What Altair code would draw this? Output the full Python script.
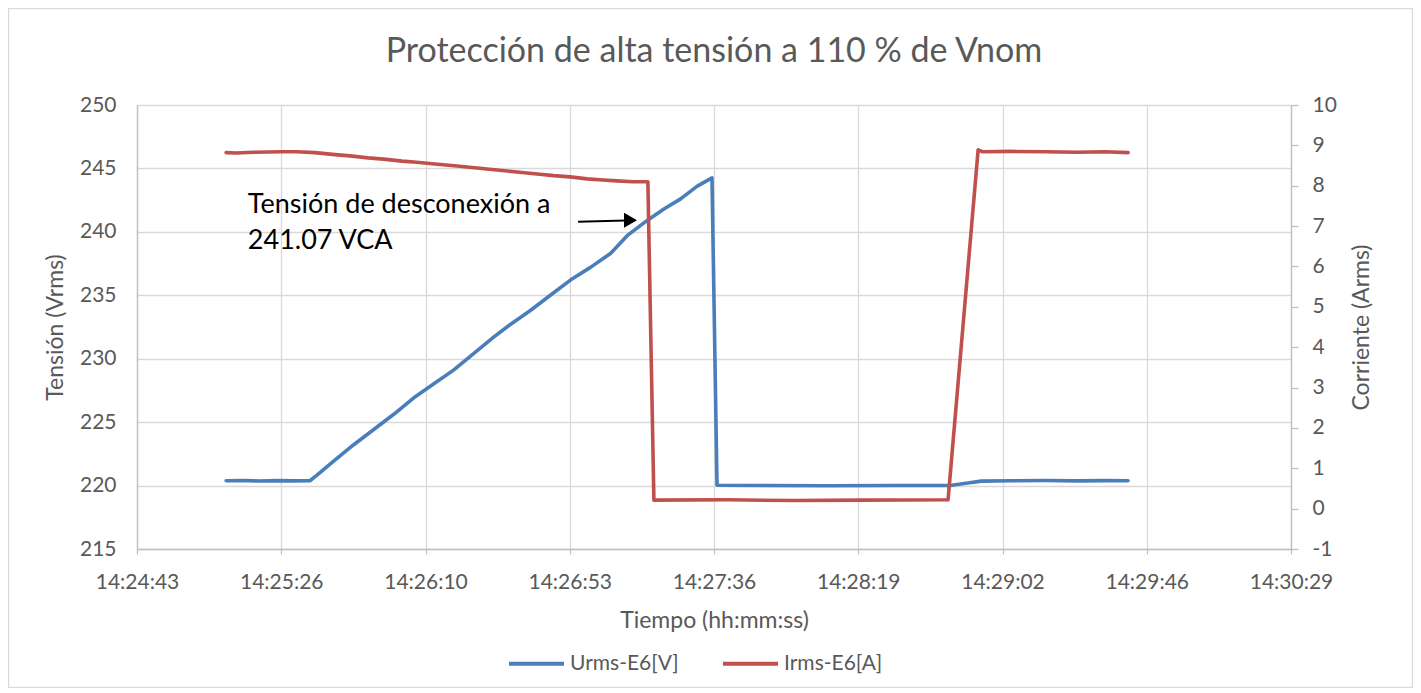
import altair as alt
import pandas as pd

TITLE = "Protección de alta tensión a 110 % de Vnom"
X_TITLE = "Tiempo (hh:mm:ss)"
Y_LEFT_TITLE = "Tensión (Vrms)"
Y_RIGHT_TITLE = "Corriente (Arms)"
U_NAME = "Urms-E6[V]"
I_NAME = "Irms-E6[A]"

X_TICK_LABELS = ["14:24:43", "14:25:26", "14:26:10", "14:26:53", "14:27:36",
                 "14:28:19", "14:29:02", "14:29:46", "14:30:29"]
X_TICK_DAYS = [0.6005, 0.6010, 0.6015, 0.6020, 0.6025, 0.6030, 0.6035, 0.6040, 0.6045]
Y_LEFT_TICKS = [215, 220, 225, 230, 235, 240, 245, 250]
Y_RIGHT_TICKS = [-1, 0, 1, 2, 3, 4, 5, 6, 7, 8, 9, 10]

U_TIME = ["14:25:09.9", "14:25:15", "14:25:20", "14:25:25", "14:25:30", "14:25:35",
          "14:25:37", "14:25:42", "14:25:48", "14:25:54", "14:26:00", "14:26:06",
          "14:26:12", "14:26:18", "14:26:24", "14:26:30", "14:26:35", "14:26:41",
          "14:26:47", "14:26:53", "14:26:59", "14:27:05", "14:27:10", "14:27:16",
          "14:27:21", "14:27:26", "14:27:31", "14:27:35.4", "14:27:36.9", "14:27:50",
          "14:28:10", "14:28:30", "14:28:46.7", "14:28:52", "14:28:56", "14:29:05",
          "14:29:15", "14:29:25", "14:29:33", "14:29:40"]
U_VAL = [220.38, 220.40, 220.36, 220.39, 220.37, 220.38,
         220.8, 221.9, 223.2, 224.4, 225.6, 226.9,
         228.0, 229.1, 230.4, 231.7, 232.7, 233.8,
         235.0, 236.2, 237.2, 238.3, 239.7, 240.9,
         241.8, 242.6, 243.6, 244.25, 220.02, 220.01,
         219.99, 220.00, 220.00, 220.2, 220.35, 220.38,
         220.40, 220.37, 220.39, 220.38]

I_TIME = ["14:25:09.9", "14:25:13", "14:25:18", "14:25:26.6", "14:25:31", "14:25:36.5",
          "14:25:42.5", "14:25:47", "14:25:52.4", "14:25:57", "14:26:02.6", "14:26:07",
          "14:26:12.4", "14:26:19", "14:26:25", "14:26:31", "14:26:37", "14:26:43",
          "14:26:48", "14:26:52.9", "14:26:58", "14:27:02.8", "14:27:07", "14:27:11.7",
          "14:27:16.2", "14:27:18.0", "14:27:40", "14:28:00", "14:28:20", "14:28:46.1",
          "14:28:55.1", "14:28:56.5", "14:29:05", "14:29:15", "14:29:25", "14:29:33",
          "14:29:40"]
I_VAL = [8.82, 8.81, 8.83, 8.84, 8.84, 8.82,
         8.77, 8.74, 8.69, 8.66, 8.61, 8.58,
         8.54, 8.49, 8.44, 8.39, 8.34, 8.29,
         8.25, 8.22, 8.17, 8.14, 8.12, 8.10,
         8.10, 0.21, 0.22, 0.20, 0.21, 0.22,
         8.89, 8.84, 8.85, 8.84, 8.83, 8.84,
         8.82]

NOTE_TEXT = "Tensión de desconexión a\n241.07 VCA"
NOTE_TIME = "14:25:16.4"
NOTE_V = 241.5
ARROW_TIME = ["14:26:55.3", "14:27:09.5"]
ARROW_V = [240.8, 240.9]
HEAD_TIME = "14:27:11.0"
HEAD_V = 240.92

BLUE = "#4A7EBB"
RED = "#C0504D"
GRID = "#D9D9D9"
AXIS = "#BFBFBF"
TXT = "#595959"
FONT = "Lato"


def to_sec(s):
    h, m, sec = s.split(":")
    return int(h) * 3600 + int(m) * 60 + float(sec)


x_ticks = [round(d * 86400, 3) for d in X_TICK_DAYS]
step = round(x_ticks[1] - x_ticks[0], 3)
label_expr = ("[" + ",".join(f"'{l}'" for l in X_TICK_LABELS) + "]"
              + f"[round((datum.value - {x_ticks[0]}) / {step})]")

du = pd.DataFrame({"t": [to_sec(s) for s in U_TIME], "v": U_VAL, "serie": U_NAME})
di = pd.DataFrame({"t": [to_sec(s) for s in I_TIME], "a": I_VAL, "serie": I_NAME})
dnote = pd.DataFrame({"t": [to_sec(NOTE_TIME)], "v": [NOTE_V], "txt": [NOTE_TEXT]})
darrow = pd.DataFrame({"t": [to_sec(ARROW_TIME[0])], "t2": [to_sec(ARROW_TIME[1])],
                       "v": [ARROW_V[0]], "v2": [ARROW_V[1]]})
dhead = pd.DataFrame({"t": [to_sec(HEAD_TIME)], "v": [HEAD_V]})

xenc = alt.X("t:Q",
             scale=alt.Scale(domain=[x_ticks[0], x_ticks[-1]], nice=False, zero=False),
             axis=alt.Axis(values=x_ticks, labelExpr=label_expr, title=X_TITLE,
                           labelFlush=False, labelOverlap=False,
                           grid=True, gridColor=GRID, gridWidth=1.3,
                           domainColor=AXIS, domainWidth=1.3,
                           ticks=True, tickColor=AXIS, tickSize=5, tickWidth=1.3,
                           labelFontSize=21, labelColor=TXT, labelPadding=17,
                           labelFont=FONT, titleFont=FONT,
                           titleFontSize=23, titleColor=TXT, titleFontWeight="normal",
                           titlePadding=17))

yleft = alt.Y("v:Q",
              scale=alt.Scale(domain=[215, 250], nice=False, zero=False),
              axis=alt.Axis(values=Y_LEFT_TICKS, title=Y_LEFT_TITLE, labelExpr="datum.value",
                            labelFlush=False, labelOverlap=False,
                            grid=True, gridColor=GRID, gridWidth=1.3,
                            domainColor=AXIS, domainWidth=1.3, ticks=False,
                            labelFontSize=21, labelColor=TXT, labelPadding=21,
                            labelFont=FONT, titleFont=FONT,
                            titleFontSize=23, titleColor=TXT, titleFontWeight="normal",
                            titlePadding=12))

yright = alt.Y("a:Q",
               scale=alt.Scale(domain=[-1, 10], nice=False, zero=False),
               axis=alt.Axis(orient="right", values=Y_RIGHT_TICKS, title=Y_RIGHT_TITLE,
                             labelExpr="datum.value", grid=False,
                             labelFlush=False, labelOverlap=False,
                             domainColor=AXIS, domainWidth=1.3,
                             ticks=True, tickColor=AXIS, tickSize=7, tickWidth=1.3,
                             labelFontSize=21, labelColor=TXT, labelPadding=14,
                             labelFont=FONT, titleFont=FONT, titleAngle=270,
                             titleBaseline="top",
                             titleFontSize=23, titleColor=TXT, titleFontWeight="normal",
                             titlePadding=14))

color = alt.Color("serie:N",
                  scale=alt.Scale(domain=[U_NAME, I_NAME], range=[BLUE, RED]),
                  legend=alt.Legend(title=None, orient="none", legendX=370, legendY=529,
                                    direction="horizontal", symbolType="stroke",
                                    symbolSize=3025, symbolStrokeWidth=4,
                                    labelFontSize=21, labelColor=TXT, labelFont=FONT,
                                    labelOffset=4, columnPadding=36))

line_u = alt.Chart(du).mark_line(strokeWidth=3.6, strokeJoin="round", strokeCap="round").encode(
    x=xenc, y=yleft, color=color)

note = alt.Chart(dnote).mark_text(align="left", baseline="alphabetic", fontSize=27,
                                  lineHeight=36, lineBreak="\n", color="black",
                                  font=FONT).encode(
    x=xenc, y=yleft, text="txt:N")

arrow = alt.Chart(darrow).mark_rule(color="black", strokeWidth=2).encode(
    x=xenc, x2="t2:Q", y=yleft, y2="v2:Q")

head = alt.Chart(dhead).mark_point(shape="triangle-right", size=225, filled=True,
                                   color="black", opacity=1).encode(
    x=xenc, y=yleft)

left = alt.layer(line_u, note, arrow, head)

line_i = alt.Chart(di).mark_line(strokeWidth=3.6, strokeJoin="round", strokeCap="round").encode(
    x=xenc, y=yright, color=color)

frame = alt.Chart(dhead).mark_rect(fill="transparent", stroke=GRID, strokeWidth=1.3).encode(
    x=alt.value(-128.5), x2=alt.value(1275.5), y=alt.value(-96.5), y2=alt.value(582.5))

chart = alt.layer(left, line_i, frame).resolve_scale(y="independent").properties(
    width=1154, height=444,
    padding={"left": 129, "top": 97, "right": 122, "bottom": 139},
    autosize=alt.AutoSizeParams(type="none"),
    title=alt.TitleParams(TITLE, fontSize=34, color=TXT, fontWeight="normal",
                          anchor="middle", font=FONT, baseline="alphabetic", offset=-88),
).configure(font=FONT).configure_view(stroke=None)

chart.save("out.html", embed_options={"renderer": "svg", "actions": False})
